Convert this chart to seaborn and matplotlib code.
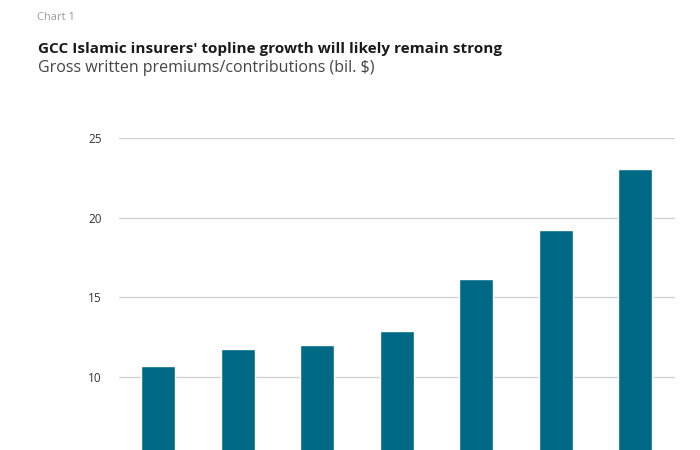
import matplotlib
matplotlib.use("Agg")
import matplotlib.pyplot as plt
import seaborn as sns
import pandas as pd

years = ["2019", "2020", "2021", "2022", "2023f", "2024f", "2025f"]
premiums = [10.65, 11.74, 12.0, 12.9, 16.14, 19.25, 23.06]
yticks = [10, 15, 20, 25]

sns.set_theme(style="white")
plt.rcParams["font.family"] = ["Open Sans", "DejaVu Sans"]

df = pd.DataFrame({"year": years, "value": premiums})

fig = plt.figure(figsize=(7, 4.5), dpi=100)
ax = fig.add_axes([0.1693, 0.0, 0.795, 0.6933])

sns.barplot(data=df, x="year", y="value", color="#006a86", width=0.43,
            saturation=1, ax=ax, zorder=3)

ax.set_xlim(-0.5, 6.5)
ax.set_ylim(5.4, 25)
ax.set_yticks(yticks)
ax.set_yticklabels([str(t) for t in yticks], fontsize=8.5, color="#333333")
ax.tick_params(axis="y", length=0, pad=12)
ax.tick_params(axis="x", length=0, labelsize=8.5, labelcolor="#333333")
ax.yaxis.grid(True, color="#d2d2d2", linewidth=1, zorder=0)
ax.set_axisbelow(True)
ax.set_xlabel("")
ax.set_ylabel("")
for s in ax.spines.values():
    s.set_visible(False)

fig.text(37/700, 1 - 17/450, "Chart 1", fontsize=8, color="#9a9a9a", va="center", ha="left")
t1 = fig.text(38/700, 1 - 49/450, "GCC Islamic insurers' topline growth will likely remain strong",
              fontsize=11, fontweight="bold", color="#1a1a1a", va="center", ha="left")
t2 = fig.text(38/700, 1 - 68/450, "Gross written premiums/contributions (bil. $)",
              fontsize=11, color="#444444", va="center", ha="left")

# fit text widths to the reference
r = fig.canvas.get_renderer()
for t, target in ((t1, 464), (t2, 335)):
    w = t.get_window_extent(r).width
    t.set_fontsize(t.get_fontsize() * target / w)

fig.savefig("out.png", dpi=100)
